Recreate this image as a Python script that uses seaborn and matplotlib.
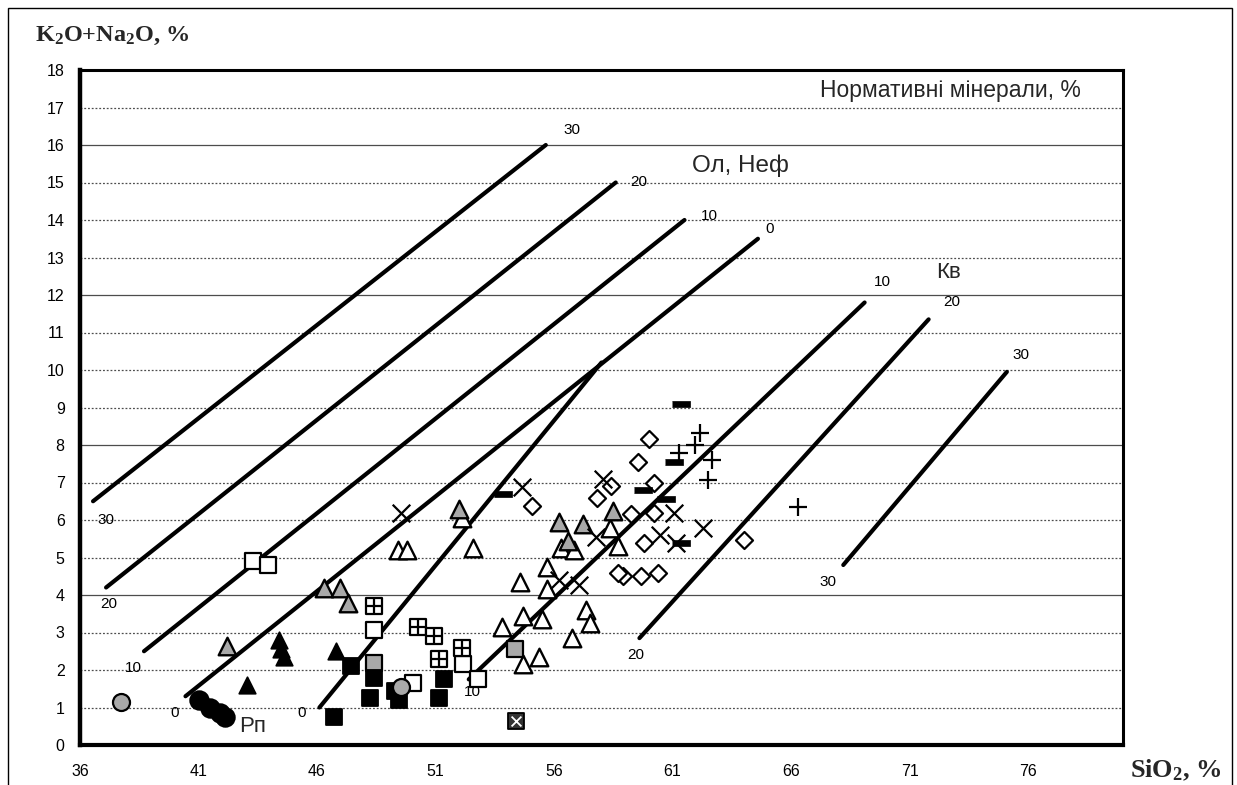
import matplotlib
matplotlib.use("Agg")
import matplotlib.pyplot as plt
import seaborn as sns
import pandas as pd
from matplotlib.patches import Rectangle

# ---------------- data ----------------
x_ticks = [36, 41, 46, 51, 56, 61, 66, 71, 76]
y_ticks = list(range(0, 19))

rp_x = [41.0, 41.5, 41.9, 42.1]
rp_y = [1.2, 1.0, 0.85, 0.75]

gray_circ_x = [37.75, 49.55]
gray_circ_y = [1.15, 1.55]

fill_tri_x = [43.05, 44.4, 44.5, 44.6, 46.8]
fill_tri_y = [1.6, 2.8, 2.55, 2.35, 2.5]

gray_tri_x = [42.2, 46.3, 46.95, 47.3, 52.0, 56.2, 56.6, 57.2, 58.5]
gray_tri_y = [2.65, 4.2, 4.2, 3.8, 6.3, 5.95, 5.45, 5.9, 6.25]

open_tri_x = [49.4, 49.8, 52.1, 52.6, 54.55, 55.7, 55.7, 53.8, 54.7, 55.5,
              57.35, 57.5, 56.75, 55.35, 54.7, 56.3, 56.85, 58.35, 58.7]
open_tri_y = [5.2, 5.2, 6.05, 5.25, 4.35, 4.75, 4.15, 3.15, 3.45, 3.35,
              3.6, 3.25, 2.85, 2.35, 2.15, 5.25, 5.2, 5.8, 5.3]

open_sq_x = [43.3, 43.95, 48.4, 50.05, 52.15, 52.8]
open_sq_y = [4.9, 4.8, 3.07, 1.65, 2.15, 1.75]

cross_sq_x = [48.4, 50.25, 50.95, 51.15, 52.1]
cross_sq_y = [3.7, 3.15, 2.9, 2.3, 2.6]

gray_sq_x = [48.4, 54.35]
gray_sq_y = [2.2, 2.55]

fill_sq_x = [46.7, 47.45, 48.4, 48.25, 49.3, 49.45, 51.15, 51.35]
fill_sq_y = [0.75, 2.1, 1.8, 1.25, 1.45, 1.2, 1.25, 1.75]

xsq_x = [54.4]
xsq_y = [0.65]

diam_x = [55.05, 60.0, 59.55, 57.8, 58.4, 60.2, 59.25, 60.2, 59.8, 58.9,
          59.65, 60.4, 58.7, 64.0]
diam_y = [6.37, 8.15, 7.55, 6.6, 6.9, 7.0, 6.15, 6.2, 5.4, 4.5,
          4.5, 4.6, 4.6, 5.47]

xm_x = [49.55, 54.65, 58.05, 57.75, 60.45, 61.15, 61.05, 62.3, 56.2, 57.05]
xm_y = [6.2, 6.88, 7.1, 5.55, 5.6, 5.4, 6.2, 5.78, 4.4, 4.27]

plus_x = [62.15, 61.95, 62.65, 62.5, 66.3, 61.25]
plus_y = [8.32, 8.0, 7.6, 7.07, 6.35, 7.8]

dash_x = [61.35, 53.85, 61.05, 59.75, 60.7, 61.35]
dash_y = [9.1, 6.7, 7.55, 6.8, 6.55, 5.4]

# normative-mineral isolines: (x0, y0, x1, y1)
ol_neph_lines = {
    "30": (36.55, 6.5, 55.65, 16.0),
    "20": (37.1, 4.2, 58.6, 15.0),
    "10": (38.7, 2.5, 61.5, 14.0),
    "0": (40.45, 1.3, 64.6, 13.5),
}
steep_line = (46.1, 1.0, 58.0, 10.2)
kv_lines = {
    "10": (52.4, 1.75, 69.1, 11.8),
    "20": (59.6, 2.85, 71.8, 11.35),
    "30": (68.2, 4.8, 75.1, 9.95),
}

# label positions
line_labels = [
    ("30", 36.75, 6.0), ("30", 56.4, 16.4),
    ("20", 36.85, 3.75), ("20", 59.2, 15.0),
    ("10", 37.9, 2.05), ("10", 62.2, 14.1),
    ("0", 39.8, 0.85), ("0", 64.9, 13.75),
    ("0", 45.15, 0.85),
    ("10", 52.2, 1.4), ("10", 69.5, 12.35),
    ("20", 59.1, 2.4), ("20", 72.4, 11.8),
    ("30", 67.2, 4.35), ("30", 75.35, 10.4),
]

# ---------------- figure ----------------
sns.set_theme(style="white")
plt.rcParams["font.family"] = ["Liberation Sans", "DejaVu Sans"]
plt.rcParams["mathtext.default"] = "regular"

fig = plt.figure(figsize=(12.37, 7.85), dpi=100)
ax = fig.add_axes([80 / 1237, 1 - 745 / 785, (1123 - 80) / 1237, (745 - 70) / 785])

ax.set_xlim(36, 80)
ax.set_ylim(0, 18)

# gridlines
for g in range(1, 18):
    if g in (4, 8, 12, 16):
        ax.axhline(g, color="0.3", lw=0.9, ls="-", zorder=0)
    else:
        ax.axhline(g, color="0.3", lw=0.9, ls=(0, (1.5, 1.5)), zorder=0)

# lines
LW = 3.0
for key, (x0, y0, x1, y1) in ol_neph_lines.items():
    sns.lineplot(x=[x0, x1], y=[y0, y1], color="black", lw=LW, ax=ax,
                 solid_capstyle="round", zorder=2)
sns.lineplot(x=[steep_line[0], steep_line[2]], y=[steep_line[1], steep_line[3]],
             color="black", lw=LW, ax=ax, solid_capstyle="round", zorder=2)
for key, (x0, y0, x1, y1) in kv_lines.items():
    sns.lineplot(x=[x0, x1], y=[y0, y1], color="black", lw=LW, ax=ax,
                 solid_capstyle="round", zorder=2)

for txt, tx, ty in line_labels:
    ax.text(tx, ty, txt, fontsize=11, ha="left", va="center", color="black", zorder=3)

GRAY = "#a9a9a9"

def pts(xs, ys, marker, s, fc, ec="black", lw=1.3, z=4):
    sns.scatterplot(x=xs, y=ys, marker=marker, s=s, facecolor=fc,
                    edgecolor=ec, linewidth=lw, ax=ax, zorder=z, legend=False)

pts(open_tri_x, open_tri_y, "^", 160, "white", lw=1.7)
pts(gray_tri_x, gray_tri_y, "^", 160, GRAY, lw=1.7)
pts(fill_tri_x, fill_tri_y, "^", 140, "black")
pts(open_sq_x, open_sq_y, "s", 135, "white", lw=1.6)
pts(cross_sq_x, cross_sq_y, "s", 135, "white", lw=1.6)
sns.scatterplot(x=cross_sq_x, y=cross_sq_y, marker="+", s=115, color="black",
                linewidth=1.6, ax=ax, zorder=5, legend=False)
pts(gray_sq_x, gray_sq_y, "s", 135, GRAY, lw=1.6)
pts(fill_sq_x, fill_sq_y, "s", 125, "black")
pts(xsq_x, xsq_y, "s", 125, "#333333")
sns.scatterplot(x=xsq_x, y=xsq_y, marker="x", s=50, color="white",
                linewidth=1.3, ax=ax, zorder=5, legend=False)
pts(diam_x, diam_y, "D", 75, "white", lw=1.6)
sns.scatterplot(x=xm_x, y=xm_y, marker="x", s=160, color="black",
                linewidth=1.6, ax=ax, zorder=5, legend=False)
sns.scatterplot(x=plus_x, y=plus_y, marker="+", s=180, color="black",
                linewidth=1.6, ax=ax, zorder=5, legend=False)
dash_marker = [(-1, -0.32), (1, -0.32), (1, 0.32), (-1, 0.32)]
pts(dash_x, dash_y, dash_marker, 160, "black", lw=0.5, z=5)
pts(rp_x, rp_y, "o", 180, "black", z=6)
pts(gray_circ_x, gray_circ_y, "o", 150, GRAY, lw=1.6, z=6)

# texts
ax.text(67.2, 17.45, "Нормативні мінерали, %", fontsize=16.5, ha="left", va="center")
ax.text(61.8, 15.45, "Ол, Неф", fontsize=17.5, ha="left", va="center")
ax.text(72.1, 12.6, "Кв", fontsize=16, ha="left", va="center")
ax.text(42.7, 0.5, "Рп", fontsize=16, ha="left", va="center")

# axes styling
ax.set_xticks(x_ticks)
ax.set_yticks(y_ticks)
ax.set_xticklabels([str(v) for v in x_ticks])
ax.set_yticklabels([str(v) for v in y_ticks])
ax.tick_params(axis="both", which="major", labelsize=11.5, length=3, width=1.5,
               direction="out", color="black", labelcolor="black")
ax.tick_params(axis="x", pad=11)
ax.tick_params(axis="y", pad=8)
for sp in ax.spines.values():
    sp.set_visible(True)
    sp.set_color("black")
    sp.set_linewidth(2.2)
ax.spines["left"].set_linewidth(3.2)
ax.spines["bottom"].set_linewidth(3.0)
ax.set_xlabel("")
ax.set_ylabel("")

fig.text(35 / 1237, 1 - 36 / 785, "K$_2$O+Na$_2$O, %", fontsize=17.5, fontweight="bold",
         family=["Liberation Serif", "DejaVu Serif"], ha="left", va="center")
fig.text(1130 / 1237, 1 - 770 / 785, "SiO$_2$, %", fontsize=19, fontweight="bold",
         family=["Liberation Serif", "DejaVu Serif"], ha="left", va="center")

# outer border
fig.patches.append(Rectangle((8 / 1237, -0.01), (1232 - 8) / 1237, 1 - 8 / 785 + 0.01,
                             transform=fig.transFigure, fill=False, ec="black", lw=1.0))

fig.savefig("out.png", dpi=100, facecolor="white")
